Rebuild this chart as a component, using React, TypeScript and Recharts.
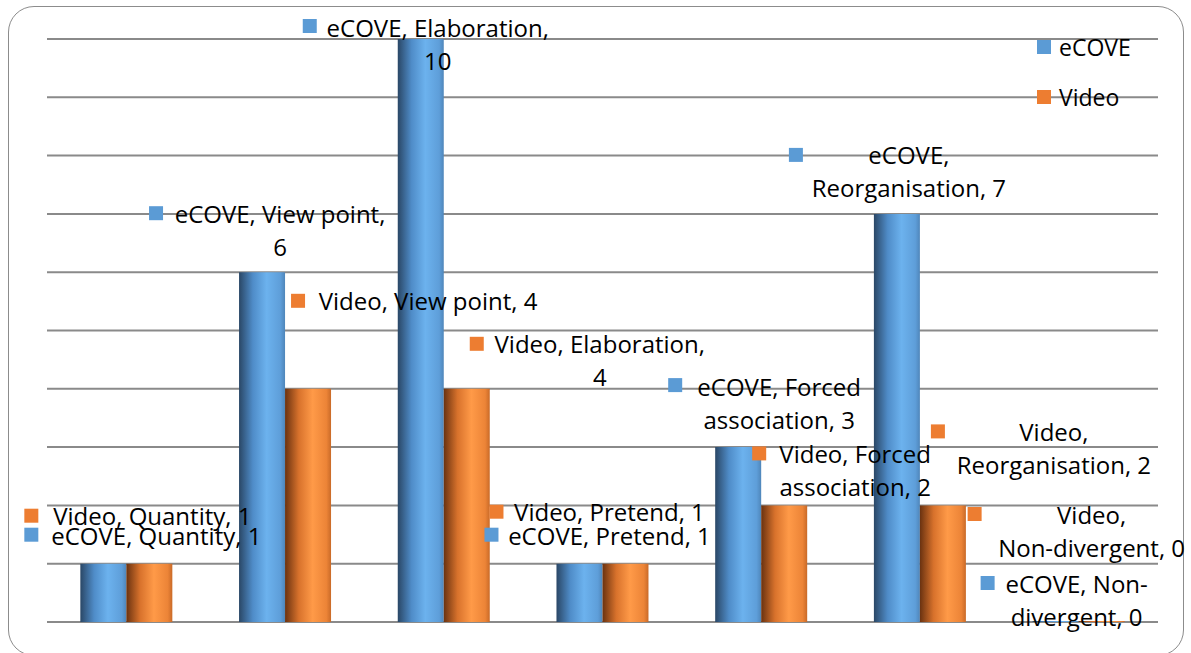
import { Bar, BarChart, CartesianGrid, LabelList, XAxis, YAxis } from "recharts"

const categories = [
  "Quantity",
  "View point",
  "Elaboration",
  "Pretend",
  "Forced association",
  "Reorganisation",
  "Non-divergent",
]
const ecoveValues = [1, 6, 10, 1, 3, 7, 0]
const videoValues = [1, 4, 4, 1, 2, 2, 0]
const gridValues = [0, 1, 2, 3, 4, 5, 6, 7, 8, 9, 10]

const ECOVE = "#5b9bd5"
const VIDEO = "#ed7d31"
const FONT = "'Open Sans', 'Noto Sans', sans-serif"

const data = categories.map((name, i) => ({
  name,
  eCOVE: ecoveValues[i],
  Video: videoValues[i],
}))

// label placement relative to bar centre / bar top (the Excel labels were dragged by hand)
type Spot = { mx: number; my: number; cx: number; cy: number; brk?: number }

const ecoveSpots: Spot[] = [
  { mx: -79, my: -29, cx: 53, cy: -28 },
  { mx: -113, my: -59, cx: 18, cy: -59, brk: 18 },
  { mx: -118, my: -13, cx: 17, cy: -12, brk: 19 },
  { mx: -95, my: -29, cx: 30, cy: -28 },
  { mx: -70, my: -62, cx: 41, cy: -61, brk: 13 },
  { mx: -108, my: -59, cx: 12, cy: -59, brk: 6 },
  { mx: -75, my: -38, cx: 21, cy: -38, brk: 11 },
]

const videoSpots: Spot[] = [
  { mx: -125, my: -48, cx: 3, cy: -48 },
  { mx: -17, my: -88, cx: 120, cy: -88 },
  { mx: 3, my: -45, cx: 133, cy: -45, brk: 19 },
  { mx: -136, my: -52, cx: -16, cy: -52 },
  { mx: -32, my: -52, cx: 71, cy: -52, brk: 13 },
  { mx: -12, my: -74, cx: 111, cy: -74, brk: 6 },
  { mx: -134, my: -107, cx: -10, cy: -107, brk: 6 },
]

function makeLabel(series: string, color: string, spots: Spot[]) {
  return (props: any) => {
    const { x, y, width, index, value } = props
    const s = spots[index]
    if (!s) return null
    const bx = Number(x) + Number(width) / 2
    const by = Number(y)
    const full = `${series}, ${categories[index]}, ${value}`
    const lines = s.brk ? [full.slice(0, s.brk), full.slice(s.brk).trim()] : [full]
    return (
      <g>
        <rect x={bx + s.mx} y={by + s.my - 7} width={14} height={14} fill={color} />
        {lines.map((t, k) => (
          <text
            key={k}
            x={bx + s.cx}
            y={by + s.cy + k * 33}
            textAnchor="middle"
            dominantBaseline="central"
            fontFamily={FONT}
            fontSize={24}
            fill="#000"
          >
            {t}
          </text>
        ))}
      </g>
    )
  }
}

function LegendBox() {
  const items = [
    { name: "eCOVE", color: ECOVE },
    { name: "Video", color: VIDEO },
  ]
  return (
    <div
      style={{
        position: "absolute",
        left: 1037,
        top: 22,
        fontFamily: FONT,
        fontSize: 23,
        color: "#000",
      }}
    >
      {items.map((it) => (
        <div key={it.name} style={{ display: "flex", alignItems: "center", height: 50 }}>
          <span style={{ width: 14, height: 14, background: it.color, marginRight: 8 }} />
          {it.name}
        </div>
      ))}
    </div>
  )
}

export default function App() {
  return (
    <div style={{ position: "absolute", left: 0, top: 0, width: 1191, height: 653, background: "#fff" }}>
      <div
        style={{
          position: "absolute",
          left: 8,
          top: 6,
          width: 1176,
          height: 650,
          border: "1px solid #8c8c8c",
          borderRadius: 26,
          boxSizing: "border-box",
        }}
      />
      <div style={{ position: "absolute", left: 0, top: 0 }}>
        <BarChart
          width={1191}
          height={653}
          data={data}
          margin={{ top: 39, right: 33, bottom: 31, left: 47 }}
          barCategoryGap="21%"
          barGap={0}
        >
          <defs>
            <linearGradient id="ecoveFill" x1="0" y1="0" x2="1" y2="0">
              <stop offset="0%" stopColor="#2a4766" />
              <stop offset="30%" stopColor="#4f8cc8" />
              <stop offset="60%" stopColor="#6cb2ee" />
              <stop offset="90%" stopColor="#5e9ed9" />
              <stop offset="100%" stopColor="#4f86ba" />
            </linearGradient>
            <linearGradient id="videoFill" x1="0" y1="0" x2="1" y2="0">
              <stop offset="0%" stopColor="#6a3210" />
              <stop offset="30%" stopColor="#d8722c" />
              <stop offset="60%" stopColor="#ff9a48" />
              <stop offset="90%" stopColor="#ec8437" />
              <stop offset="100%" stopColor="#c96a28" />
            </linearGradient>
          </defs>
          <CartesianGrid
            vertical={false}
            horizontalValues={gridValues}
            stroke="#8a8a8a"
            strokeWidth={2}
          />
          <XAxis dataKey="name" hide />
          <YAxis domain={[0, 10]} ticks={gridValues} hide />
          <Bar dataKey="eCOVE" fill="url(#ecoveFill)" minPointSize={1} isAnimationActive={false}>
            <LabelList dataKey="eCOVE" content={makeLabel("eCOVE", ECOVE, ecoveSpots)} />
          </Bar>
          <Bar dataKey="Video" fill="url(#videoFill)" minPointSize={1} isAnimationActive={false}>
            <LabelList dataKey="Video" content={makeLabel("Video", VIDEO, videoSpots)} />
          </Bar>
        </BarChart>
      </div>
      <LegendBox />
    </div>
  )
}
